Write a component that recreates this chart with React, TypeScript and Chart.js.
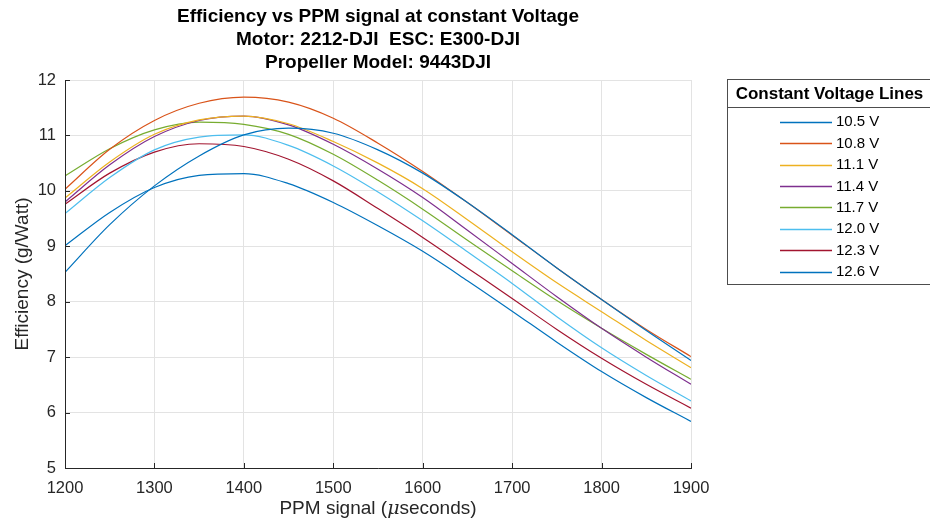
import React, { useEffect, useRef } from "react";
import { Chart, registerables } from "chart.js";

Chart.register(...registerables);

// PPM pulse width samples (microseconds)
const PPM = [1200, 1250, 1300, 1350, 1400, 1450, 1500, 1550, 1600, 1650, 1700, 1750, 1800, 1850, 1900];

const VOLTAGE_LABELS = ["10.5 V", "10.8 V", "11.1 V", "11.4 V", "11.7 V", "12.0 V", "12.3 V", "12.6 V"];

// Efficiency (g/Watt) per supply voltage, sampled at PPM
const EFF_10_5 = [8.53, 9.39, 10.09, 10.63, 11.01, 11.13, 11.04, 10.74, 10.32, 9.79, 9.21, 8.61, 8.04, 7.48, 6.94];
const EFF_10_8 = [10.03, 10.75, 11.27, 11.58, 11.69, 11.6, 11.31, 10.86, 10.35, 9.79, 9.2, 8.61, 8.04, 7.5, 7.01];
const EFF_11_1 = [9.87, 10.52, 11.02, 11.28, 11.35, 11.21, 10.89, 10.5, 10.04, 9.48, 8.9, 8.34, 7.82, 7.3, 6.81];
const EFF_11_4 = [9.8, 10.47, 10.98, 11.27, 11.35, 11.19, 10.84, 10.39, 9.88, 9.29, 8.69, 8.09, 7.52, 7.0, 6.51];
const EFF_11_7 = [10.27, 10.76, 11.1, 11.24, 11.2, 11.02, 10.66, 10.19, 9.67, 9.11, 8.56, 8.02, 7.52, 7.05, 6.6];
const EFF_12_0 = [9.59, 10.24, 10.74, 10.97, 11.01, 10.82, 10.45, 9.98, 9.46, 8.9, 8.33, 7.73, 7.17, 6.67, 6.21];
const EFF_12_3 = [9.76, 10.32, 10.7, 10.85, 10.8, 10.57, 10.18, 9.68, 9.16, 8.61, 8.06, 7.5, 6.98, 6.51, 6.08];
const EFF_12_6 = [9.01, 9.61, 10.06, 10.28, 10.31, 10.13, 9.79, 9.37, 8.91, 8.38, 7.83, 7.27, 6.74, 6.27, 5.84];

const SERIES = [EFF_10_5, EFF_10_8, EFF_11_1, EFF_11_4, EFF_11_7, EFF_12_0, EFF_12_3, EFF_12_6];

const COLORS = ["#0072BD", "#D95319", "#EDB120", "#7E2F8E", "#77AC30", "#4DBEEE", "#A2142F", "#0072BD"];

const X_TICKS = [1200, 1300, 1400, 1500, 1600, 1700, 1800, 1900];
const Y_TICKS = [5, 6, 7, 8, 9, 10, 11, 12];

const TITLE_LINES = [
  "Efficiency vs PPM signal at constant Voltage",
  "Motor: 2212-DJI  ESC: E300-DJI",
  "Propeller Model: 9443DJI",
];
const X_TITLE_PARTS = ["PPM signal (", "\u03BC", "seconds)"];
const Y_TITLE = "Efficiency (g/Watt)";
const LEGEND_TITLE = "Constant Voltage Lines";

const FONT = "'Liberation Sans', Arial, Helvetica, sans-serif";
const AXIS_COLOR = "#262626";

const decorations = {
  id: "decorations",
  afterDraw(chart: any) {
    const { ctx, chartArea: a, scales } = chart;
    ctx.save();

    // axis lines with inward tick marks
    ctx.strokeStyle = AXIS_COLOR;
    ctx.lineWidth = 1;
    ctx.beginPath();
    ctx.moveTo(a.left + 0.5, a.top);
    ctx.lineTo(a.left + 0.5, a.bottom + 0.5);
    ctx.lineTo(a.right + 1, a.bottom + 0.5);
    for (const v of X_TICKS) {
      const x = Math.round(scales.x.getPixelForValue(v)) + 0.5;
      ctx.moveTo(x, a.bottom);
      ctx.lineTo(x, a.bottom - 5);
    }
    for (const v of Y_TICKS) {
      const y = Math.round(scales.y.getPixelForValue(v)) + 0.5;
      ctx.moveTo(a.left, y);
      ctx.lineTo(a.left + 5, y);
    }
    ctx.stroke();

    // chart title
    const cx = (a.left + a.right) / 2;
    ctx.fillStyle = "#000";
    ctx.textAlign = "center";
    ctx.textBaseline = "middle";
    ctx.font = `bold 19px ${FONT}`;
    TITLE_LINES.forEach((t, i) => ctx.fillText(t, cx, 16.5 + i * 23.2));

    // x axis title, with an italic mu
    ctx.fillStyle = AXIS_COLOR;
    ctx.textAlign = "left";
    const fonts = [`19px ${FONT}`, `italic 19px 'DejaVu Serif', serif`, `19px ${FONT}`];
    let total = 0;
    const widths = X_TITLE_PARTS.map((p, i) => {
      ctx.font = fonts[i];
      const w = ctx.measureText(p).width;
      total += w;
      return w;
    });
    let x0 = cx - total / 2;
    X_TITLE_PARTS.forEach((p, i) => {
      ctx.font = fonts[i];
      ctx.fillText(p, x0, 509);
      x0 += widths[i];
    });

    // y axis title
    ctx.textAlign = "center";
    ctx.font = `19px ${FONT}`;
    ctx.save();
    ctx.translate(22.5, (a.top + a.bottom) / 2);
    ctx.rotate(-Math.PI / 2);
    ctx.fillText(Y_TITLE, 0, 0);
    ctx.restore();

    // legend box
    const lx = 727.5, ly = 79.5, lw = 206, lh = 205;
    ctx.fillStyle = "#fff";
    ctx.fillRect(lx, ly, lw, lh);
    ctx.strokeStyle = "#4d4d4d";
    ctx.lineWidth = 1;
    ctx.strokeRect(lx, ly, lw, lh);
    ctx.beginPath();
    ctx.moveTo(lx, 107.5);
    ctx.lineTo(lx + lw, 107.5);
    ctx.stroke();
    ctx.fillStyle = "#000";
    ctx.font = `bold 17px ${FONT}`;
    ctx.fillText(LEGEND_TITLE, 829.5, 94);

    ctx.font = `15px ${FONT}`;
    ctx.textAlign = "left";
    chart.data.datasets.forEach((ds: any, i: number) => {
      const y = 121.7 + i * 21.43;
      ctx.strokeStyle = ds.borderColor;
      ctx.lineWidth = 1.5;
      ctx.beginPath();
      ctx.moveTo(780, Math.round(y) + 0.5);
      ctx.lineTo(832, Math.round(y) + 0.5);
      ctx.stroke();
      ctx.fillStyle = "#000";
      ctx.fillText(ds.label, 836, y + 0.5);
    });

    ctx.restore();
  },
};

export default function App() {
  const canvasRef = useRef<HTMLCanvasElement | null>(null);

  useEffect(() => {
    if (!canvasRef.current) return;
    const chart = new Chart(canvasRef.current, {
      type: "line",
      data: {
        datasets: SERIES.map((vals, i) => ({
          label: VOLTAGE_LABELS[i],
          data: PPM.map((x, j) => ({ x, y: vals[j] })),
          borderColor: COLORS[i],
          backgroundColor: COLORS[i],
          borderWidth: 1.2,
          pointRadius: 0,
          cubicInterpolationMode: "monotone" as const,
          fill: false,
        })),
      },
      options: {
        responsive: false,
        animation: false,
        layout: { padding: { top: 80, right: 239, left: 0, bottom: 0 } },
        plugins: {
          legend: { display: false },
          title: { display: false },
          tooltip: { enabled: false },
        },
        scales: {
          x: {
            type: "linear",
            min: 1200,
            max: 1900,
            afterFit: (s: any) => {
              s.height = 61;
            },
            afterBuildTicks: (s: any) => {
              s.ticks = X_TICKS.map((value) => ({ value }));
            },
            grid: { color: "#e3e3e3", drawTicks: false, lineWidth: 1 },
            border: { display: false },
            ticks: {
              padding: 11,
              color: AXIS_COLOR,
              font: { family: FONT, size: 16.5 },
              maxRotation: 0,
              callback: (v: any) => String(v),
            },
          },
          y: {
            type: "linear",
            min: 5,
            max: 12,
            afterFit: (s: any) => {
              s.width = 65;
            },
            afterBuildTicks: (s: any) => {
              s.ticks = Y_TICKS.map((value) => ({ value }));
            },
            grid: { color: "#e3e3e3", drawTicks: false, lineWidth: 1 },
            border: { display: false },
            ticks: {
              padding: 9,
              color: AXIS_COLOR,
              font: { family: FONT, size: 16.5 },
              callback: (v: any) => String(v),
            },
          },
        },
      },
      plugins: [decorations],
    });
    return () => chart.destroy();
  }, []);

  return (
    <div style={{ position: "fixed", left: 0, top: 0, width: 930, height: 529, background: "#fff" }}>
      <canvas ref={canvasRef} width={930} height={529} />
    </div>
  );
}
